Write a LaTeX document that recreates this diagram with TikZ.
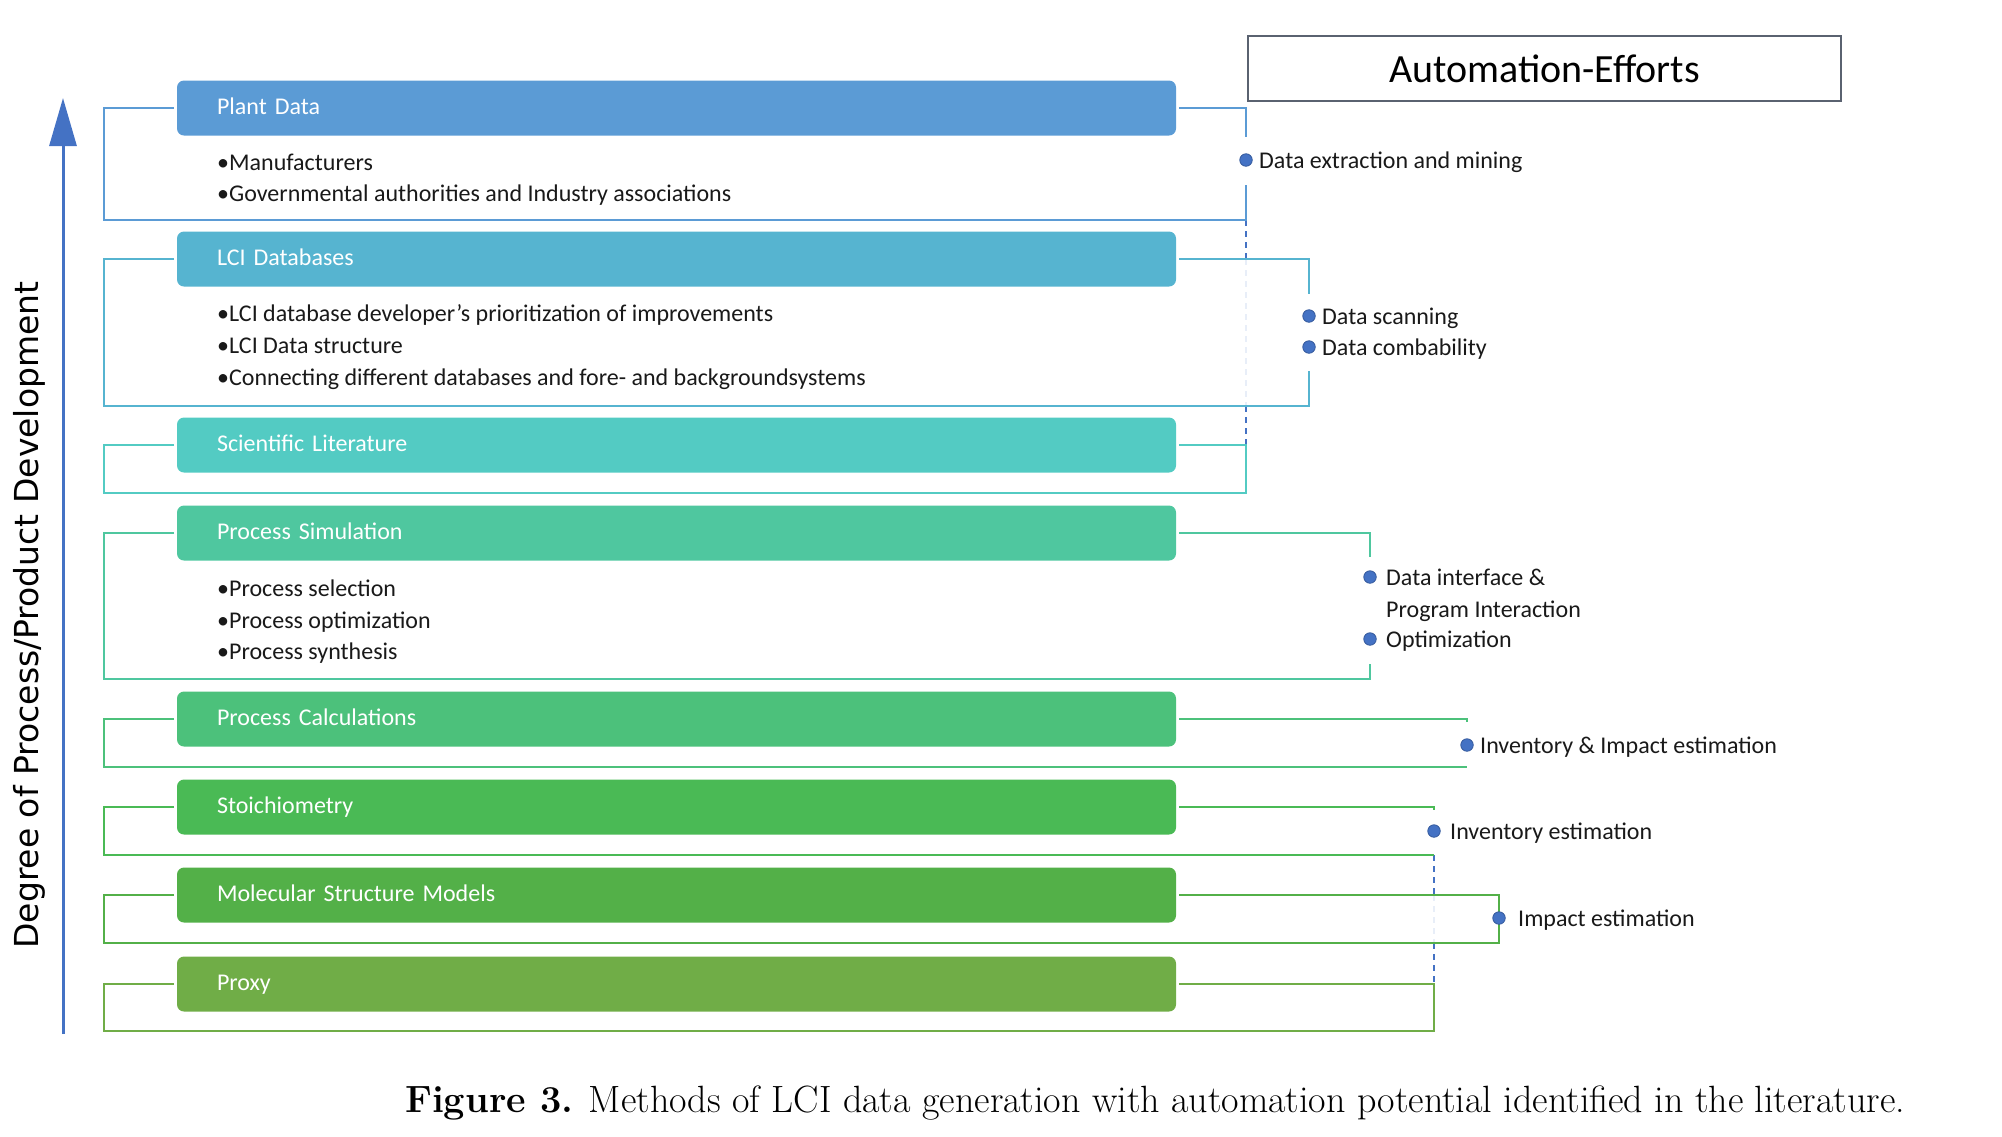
\documentclass[tikz,border=0pt]{standalone}
\usepackage{fontspec}
\newfontfamily\carlito{Carlito}
\newfontfamily\dejavu{DejaVu Sans}
\usetikzlibrary{arrows.meta,positioning,calc}

\definecolor{c1}{HTML}{5B9BD5}
\definecolor{c2}{HTML}{56B4D0}
\definecolor{c3}{HTML}{53CBC3}
\definecolor{c4}{HTML}{4FC79F}
\definecolor{c5}{HTML}{4CC17B}
\definecolor{c6}{HTML}{4ABA55}
\definecolor{c7}{HTML}{53B048}
\definecolor{c8}{HTML}{70AD47}
\definecolor{dotcol}{HTML}{4472C4}
\definecolor{boxcol}{HTML}{5A6270}

\tikzset{
  bar/.style={fill=#1, rounded corners=7pt, text width=919pt, inner xsep=40pt,
    inner ysep=0pt, minimum height=55pt, align=left, text=white,
    font=\carlito\fontsize{24}{28}\selectfont, text height=17pt, text depth=5pt,
    outer sep=3pt},
  brk/.style={draw=#1, line width=2.5pt},
  item/.style={anchor=base west, inner sep=0pt, text=black!90,
    font=\carlito\fontsize{24}{28}\selectfont},
  effdot/.style={circle, fill=dotcol, draw=dotcol!80!black, line width=0.8pt,
    minimum size=12.5pt, inner sep=0pt},
  effort/.style={anchor=base west, inner sep=0pt, text=black!90,
    font=\carlito\fontsize{24}{28}\selectfont},
  dashln/.style={draw=dotcol, line width=2pt, dash pattern=on 6pt off 5pt},
}

\begin{document}
\begin{tikzpicture}[x=1pt,y=-1pt]
\useasboundingbox (0,0) rectangle (2002,1136);

% axis
\coordinate (ax0) at (63,1034);
\coordinate (ax1) at (63,98);
\draw[line width=3pt, draw=dotcol, -{Triangle[length=48pt,width=27pt]}] (ax0) -- (ax1);
\node[rotate=90, anchor=base, inner sep=0pt, font=\dejavu\fontsize{33}{40}\selectfont]
  (axlab) at (38,615) {Degree of Process/Product Development};

% heading
\node[draw=boxcol, line width=2pt, minimum width=593pt, minimum height=65pt,
  font=\carlito\fontsize{40}{48}\selectfont] (ae) at (1544.5,68.5) {Automation-Efforts};

% bracket corners
\coordinate (pd-b) at (104,220);
\coordinate (pd-c) at (1246,220);
\coordinate (lci-b) at (104,406);
\coordinate (sl-b) at (104,493);
\coordinate (sl-c) at (1246,445);
\coordinate (ps-b) at (104,679);
\coordinate (pc-b) at (104,767);
\coordinate (st-b) at (104,855);
\coordinate (st-c) at (1434,855);
\coordinate (ms-b) at (104,943);
\coordinate (ms-c) at (1499,895);
\coordinate (px-b) at (104,1031);
\coordinate (px-c) at (1434,984);

% dashed links
\draw[dashln] (pd-c) -- (1246,259);
\draw[dashln, draw opacity=.12] (1246,259) -- (1246,406);
\draw[dashln] (1246,406) -- (sl-c);
\draw[dashln] (st-c) -- (1434,895);
\draw[dashln, draw opacity=.12] (1434,895) -- (1434,943);
\draw[dashln] (1434,943) -- (px-c);

% bars
\node[bar=c1] (pd) at (676.5,108) {Plant Data};
\node[bar=c2] (lci) at (676.5,259) {LCI Databases};
\node[bar=c3] (sl) at (676.5,445) {Scientific Literature};
\node[bar=c4] (ps) at (676.5,533) {Process Simulation};
\node[bar=c5] (pc) at (676.5,719) {Process Calculations};
\node[bar=c6] (st) at (676.5,807) {Stoichiometry};
\node[bar=c7] (ms) at (676.5,895) {Molecular Structure Models};
\node[bar=c8] (px) at (676.5,984) {Proxy};

% items
\node[item] (pd-i1) at (217,170) {•Manufacturers};
\node[item] (pd-i2) at (217,201) {•Governmental authorities and Industry associations};
\node[item] (lci-i1) at (217,321) {•LCI database developer’s prioritization of improvements};
\node[item] (lci-i2) at (217,353) {•LCI Data structure};
\node[item] (lci-i3) at (217,385) {•Connecting different databases and fore- and backgroundsystems};
\node[item] (ps-i1) at (217,596) {•Process selection};
\node[item] (ps-i2) at (217,628) {•Process optimization};
\node[item] (ps-i3) at (217,659) {•Process synthesis};

% automation efforts
\node[effdot] (pd-d) at (1246,160) {};
\node[effort] (pd-e) at ($(pd-d)+(13,8)$) {Data extraction and mining};
\node[effdot] (lci-d1) at (1309,316) {};
\node[effort] (lci-e1) at ($(lci-d1)+(13,8)$) {Data scanning};
\node[effdot] (lci-d2) at (1309,347) {};
\node[effort] (lci-e2) at ($(lci-d2)+(13,8)$) {Data combability};
\node[effdot] (ps-d1) at (1370,577) {};
\node[effort] (ps-e1) at ($(ps-d1)+(16,8)$) {Data interface \&};
\node[effort] (ps-e2) at ($(ps-d1)+(16,40)$) {Program Interaction};
\node[effdot] (ps-d2) at (1370,639) {};
\node[effort] (ps-e3) at ($(ps-d2)+(16,8)$) {Optimization};
\node[effdot] (pc-d) at (1467,745) {};
\node[effort] (pc-e) at ($(pc-d)+(13,8)$) {Inventory \& Impact estimation};
\node[effdot] (st-d) at (1434,831) {};
\node[effort] (st-e) at ($(st-d)+(16,8)$) {Inventory estimation};

% brackets
\draw[brk=c1] (pd.east) -| ($(pd-d)+(0,-23)$);
\draw[brk=c1] (pd.west) -| (pd-b) -| ($(pd-d)+(0,25)$);
\draw[brk=c2] (lci.east) -| ($(lci-d1)+(0,-22)$);
\draw[brk=c2] (lci.west) -| (lci-b) -| ($(lci-d2)+(0,24)$);
\draw[brk=c3] (sl.west) -| (sl-b) -| (sl-c) -- (sl.east);
\draw[brk=c4] (ps.east) -| ($(ps-d1)+(0,-20)$);
\draw[brk=c4] (ps.west) -| (ps-b) -| ($(ps-d2)+(0,25)$);
\draw[brk=c5] (pc.east) -| ($(pc-d)+(0,-23)$);
\draw[brk=c5] (pc.west) -| (pc-b) -| ($(pc-d)+(0,22)$);
\draw[brk=c6] (st.east) -| ($(st-d)+(0,-21)$);
\draw[brk=c6] (st.west) -| (st-b) -| ($(st-d)+(0,24)$);
\draw[brk=c7] (ms.west) -| (ms-b) -| (ms-c) -- (ms.east);
\draw[brk=c8] (px.west) -| (px-b) -| (px-c) -- (px.east);

\node[effdot] (ms-d) at (1499,918) {};
\node[effort] (ms-e) at ($(ms-d)+(19,8)$) {Impact estimation};

% caption
\node[anchor=base west, inner sep=0pt, font=\fontsize{38}{44}\selectfont] (cap) at (405,1112)
  {\textbf{Figure 3.} Methods of LCI data generation with automation potential identified in the literature.};
\end{tikzpicture}
\end{document}
